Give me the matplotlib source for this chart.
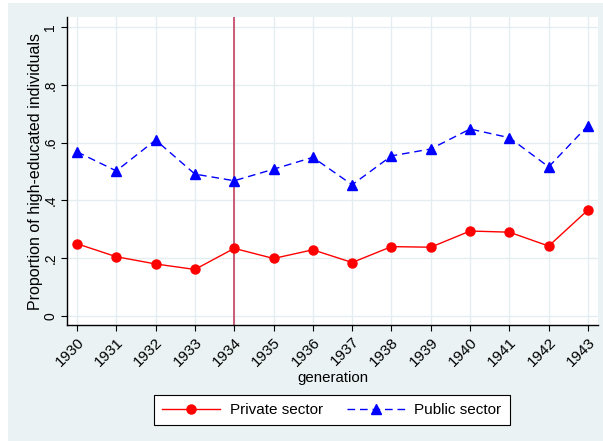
import matplotlib as mpl

mpl.use("Agg")
import matplotlib.pyplot as plt
from matplotlib.patches import Rectangle

BG, GRID, VLINE = "#eaf2f3", "#e4eef0", "#c8506e"

generation = list(range(1930, 1944))
private = [0.250, 0.205, 0.180, 0.161, 0.234, 0.199, 0.229, 0.185,
           0.240, 0.238, 0.294, 0.290, 0.242, 0.367]
public = [0.568, 0.502, 0.609, 0.491, 0.468, 0.508, 0.549, 0.454,
          0.554, 0.578, 0.647, 0.617, 0.516, 0.659]
cutoff = 1934
yticks = [0, 0.2, 0.4, 0.6, 0.8, 1]
ylabels = ["0", ".2", ".4", ".6", ".8", "1"]

plt.rcParams.update({"font.family": ["Liberation Sans", "DejaVu Sans"], "font.size": 9.5})

W, H = 603, 441
fig = plt.figure(figsize=(W / 100, H / 100), dpi=100, facecolor="white")
fig.patches.append(Rectangle((8 / W, 0), 1, 1 - 3 / H, transform=fig.transFigure,
                             facecolor=BG, edgecolor="none", zorder=-1))

ax = fig.add_axes([67 / W, 1 - 325 / H, (598 - 67) / W, (325 - 17) / H])
ax.set_facecolor("white")

ax.plot(generation, private, color="red", lw=1.0, marker="o", ms=6.5,
        label="Private sector", zorder=3)
ax.plot(generation, public, color="blue", lw=1.0, ls=(0, (5.5, 3.5)), marker="^",
        ms=7, label="Public sector", zorder=3)
ax.axvline(cutoff, color=VLINE, lw=1.3, zorder=2)

ax.set_xlim(1930 - 10 / 39.3, 1943 + 10 / 39.3)
ax.set_ylim(-9 / 288, 1 + 10 / 288)
ax.set_xticks(generation)
ax.set_xticklabels([str(g) for g in generation], rotation=45, ha="right",
                   rotation_mode="anchor", fontsize=11)
ax.set_yticks(yticks)
ax.set_yticklabels(ylabels, rotation=90, va="center", fontsize=10)
ax.grid(True, color=GRID, lw=1.0, zorder=0)
ax.set_axisbelow(True)
ax.tick_params(direction="out", length=4, width=0.8, color="black", pad=3)
for s in ("top", "right"):
    ax.spines[s].set_visible(False)
for s in ("left", "bottom"):
    ax.spines[s].set_linewidth(1.0)
    ax.spines[s].set_color("black")

ax.set_ylabel("Proportion of high-educated individuals", fontsize=11.5, labelpad=0)
ax.set_xlabel("generation", fontsize=10.8, labelpad=2)

leg = fig.legend(loc="center", bbox_to_anchor=(332 / W, 1 - 410 / H), ncol=2,
                 fancybox=False, framealpha=1, edgecolor="black", fontsize=11,
                 handlelength=3.8, handletextpad=0.6, columnspacing=1.6,
                 borderpad=0.55)
leg.get_frame().set_linewidth(0.8)

fig.savefig("out.png", dpi=100, facecolor="white")
